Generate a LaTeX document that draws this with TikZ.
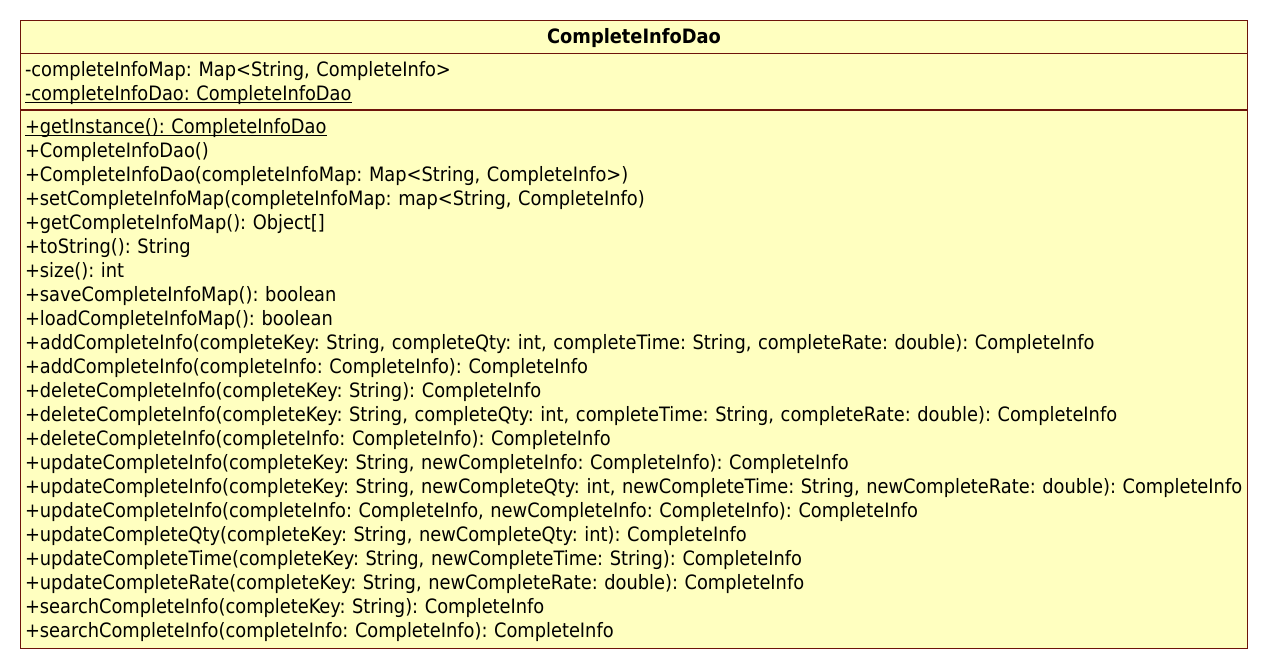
\documentclass[tikz,border=0pt]{standalone}
\usepackage{fontspec}
\setmainfont{DejaVu Sans Condensed}
\usetikzlibrary{positioning}
\definecolor{umlfill}{RGB}{255,255,192}
\definecolor{umlline}{RGB}{110,20,10}
\frenchspacing
% static members: thin line just under the baseline
\newsavebox{\staticbox}
\newcommand{\statictext}[1]{\leavevmode\sbox{\staticbox}{#1}\rlap{\rule[-2.4pt]{\wd\staticbox}{1.2pt}}\usebox{\staticbox}}

\begin{document}
\begin{tikzpicture}[x=1pt,y=1pt,
  part/.style={shape=rectangle,draw=umlline,fill=umlfill,line width=1.5pt,
    minimum width=1227pt,inner xsep=4.5pt,inner ysep=0pt,outer sep=0pt,
    text width=1218pt,align=left,text height=23.3pt,
    font=\fontsize{19.8}{24}\selectfont}]
\useasboundingbox (0,0) rectangle (1268,-669);
\node[part,minimum height=33pt,text depth=9.7pt,align=center,anchor=north west] (title) at (20.5,-20.5) {\bfseries CompleteInfoDao};
\node[part,minimum height=56.5pt,text depth=33.2pt,below=0pt of title] (attrs) {-completeInfoMap: Map<String, CompleteInfo>\\
\statictext{-completeInfoDao: CompleteInfoDao}};
\node[part,minimum height=538.5pt,text depth=515.2pt,below=0pt of attrs] (ops) {\statictext{+getInstance(): CompleteInfoDao}\\
+CompleteInfoDao()\\
+CompleteInfoDao(completeInfoMap: Map<String, CompleteInfo>)\\
+setCompleteInfoMap(completeInfoMap: map<String, CompleteInfo)\\
+getCompleteInfoMap(): Object[]\\
+toString(): String\\
+size(): int\\
+saveCompleteInfoMap(): boolean\\
+loadCompleteInfoMap(): boolean\\
+addCompleteInfo(completeKey: String, completeQty: int, completeTime: String, completeRate: double): CompleteInfo\\
+addCompleteInfo(completeInfo: CompleteInfo): CompleteInfo\\
+deleteCompleteInfo(completeKey: String): CompleteInfo\\
+deleteCompleteInfo(completeKey: String, completeQty: int, completeTime: String, completeRate: double): CompleteInfo\\
+deleteCompleteInfo(completeInfo: CompleteInfo): CompleteInfo\\
+updateCompleteInfo(completeKey: String, newCompleteInfo: CompleteInfo): CompleteInfo\\
+updateCompleteInfo(completeKey: String, newCompleteQty: int, newCompleteTime: String, newCompleteRate: double): CompleteInfo\\
+updateCompleteInfo(completeInfo: CompleteInfo, newCompleteInfo: CompleteInfo): CompleteInfo\\
+updateCompleteQty(completeKey: String, newCompleteQty: int): CompleteInfo\\
+updateCompleteTime(completeKey: String, newCompleteTime: String): CompleteInfo\\
+updateCompleteRate(completeKey: String, newCompleteRate: double): CompleteInfo\\
+searchCompleteInfo(completeKey: String): CompleteInfo\\
+searchCompleteInfo(completeInfo: CompleteInfo): CompleteInfo};
\end{tikzpicture}
\end{document}
